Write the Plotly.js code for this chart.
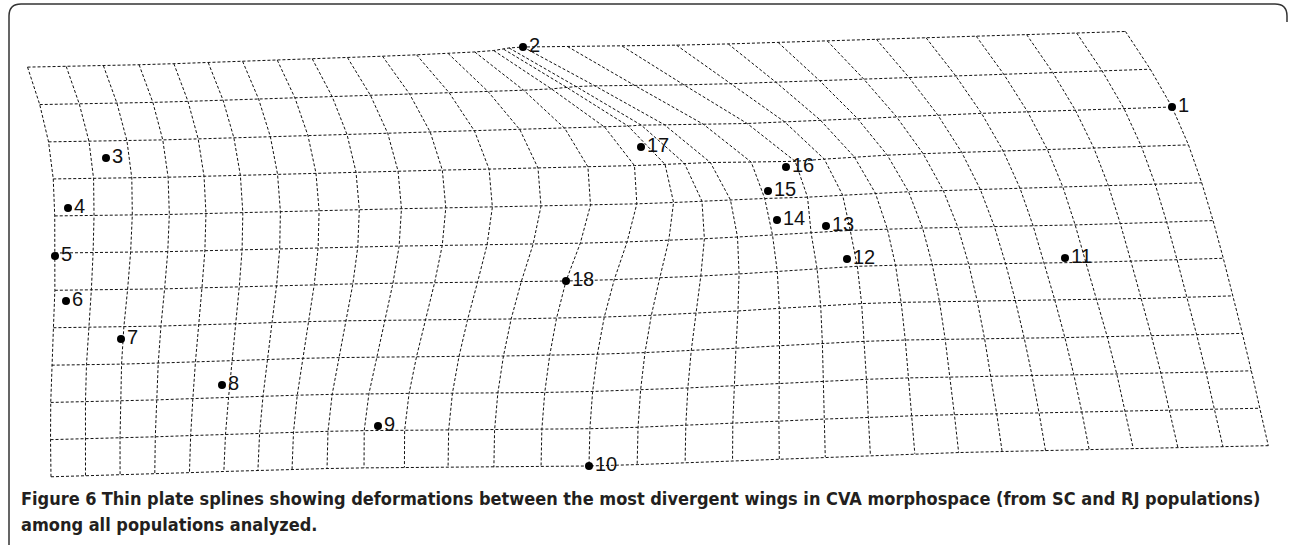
<!DOCTYPE html>
<html>
<head>
<meta charset="utf-8">
<script src="https://cdn.plot.ly/plotly-3.0.1.min.js"></script>
<style>
  html, body { margin: 0; padding: 0; background: #ffffff; }
  #chart { width: 1292px; height: 545px; }
</style>
</head>
<body>
<div id="chart"></div>
<script>
// ---- Landmark data (target configuration) ----
const landmarkLabels = ['1','2','3','4','5','6','7','8','9','10','11','12','13','14','15','16','17','18'];
const landmarkX = [1172, 523, 106, 68, 55, 66, 121, 222, 378, 589, 1065, 847, 826, 777, 768, 786, 641, 566];
const landmarkY = [107, 47, 158, 208, 256, 301, 339, 385, 426, 466, 258, 259, 226, 220, 191, 167, 147, 281];
// ---- Landmark positions in the undeformed reference grid (grid units) ----
const refU = [29, 17.0, 1.36, 0.34, 0, 0.31, 1.95, 4.78, 9.35, 14, 25.55, 19.77, 19.41, 18.19, 18.12, 18.63, 14.45, 13];
const refV = [2, 0, 2.45, 3.79, 5.08, 6.29, 7.32, 8.66, 9.88, 11, 5.87, 5.79, 4.84, 4.59, 3.8, 3.14, 2.53, 6];
// ---- Grid size (number of vertical and horizontal lines) ----
const gridCols = 30;
const gridRows = 12;
// ---- Caption ----
const captionFigure = 'Figure 6';
const captionLine1 = 'Thin plate splines showing deformations between the most divergent wings in CVA morphospace (from SC and RJ populations)';
const captionLine2 = 'among all populations analyzed.';

// ---- Thin plate spline (reference grid -> target configuration) ----
function Ufn(r2) { return r2 === 0 ? 0 : r2 * Math.log(r2); }
function solve(A, b) {
  const m = b.length;
  const M = A.map((row, i) => row.concat([b[i]]));
  for (let c = 0; c < m; c++) {
    let p = c;
    for (let r = c + 1; r < m; r++) if (Math.abs(M[r][c]) > Math.abs(M[p][c])) p = r;
    [M[c], M[p]] = [M[p], M[c]];
    for (let r = 0; r < m; r++) {
      if (r === c) continue;
      const f = M[r][c] / M[c][c];
      for (let k = c; k <= m; k++) M[r][k] -= f * M[c][k];
    }
  }
  return M.map((row, i) => row[m] / row[i]);
}
const n = refU.length;
const L = [];
for (let i = 0; i < n + 3; i++) L.push(new Array(n + 3).fill(0));
for (let i = 0; i < n; i++) {
  for (let j = 0; j < n; j++) {
    const du = refU[i] - refU[j], dv = refV[i] - refV[j];
    L[i][j] = Ufn(du * du + dv * dv);
  }
  L[i][n] = 1; L[i][n + 1] = refU[i]; L[i][n + 2] = refV[i];
  L[n][i] = 1; L[n + 1][i] = refU[i]; L[n + 2][i] = refV[i];
}
const coefX = solve(L, landmarkX.concat([0, 0, 0]));
const coefY = solve(L, landmarkY.concat([0, 0, 0]));
function warp(u, v) {
  let x = coefX[n] + coefX[n + 1] * u + coefX[n + 2] * v;
  let y = coefY[n] + coefY[n + 1] * u + coefY[n + 2] * v;
  for (let i = 0; i < n; i++) {
    const du = u - refU[i], dv = v - refV[i];
    const k = Ufn(du * du + dv * dv);
    x += coefX[i] * k; y += coefY[i] * k;
  }
  return [x, y];
}

const gx = [], gy = [];
for (let r = 0; r < gridRows; r++) {
  for (let c = 0; c < gridCols; c++) { const p = warp(c, r); gx.push(p[0]); gy.push(p[1]); }
  gx.push(null); gy.push(null);
}
for (let c = 0; c < gridCols; c++) {
  for (let r = 0; r < gridRows; r++) { const p = warp(c, r); gx.push(p[0]); gy.push(p[1]); }
  gx.push(null); gy.push(null);
}

const traces = [
  {
    type: 'scatter', mode: 'lines', x: gx, y: gy, hoverinfo: 'skip',
    line: { color: '#111111', width: 1, dash: '3px,2px' }, connectgaps: false
  },
  {
    type: 'scatter', mode: 'markers+text', x: landmarkX, y: landmarkY,
    text: landmarkLabels, textposition: 'middle right',
    marker: { color: '#000000', size: 8 },
    textfont: { family: 'Liberation Sans, Arial, sans-serif', size: 20, color: '#111111' }
  }
];

const W = 1292, H = 545;
const layout = {
  width: W, height: H,
  margin: { l: 0, r: 0, t: 0, b: 0, pad: 0 },
  paper_bgcolor: '#ffffff', plot_bgcolor: '#ffffff',
  showlegend: false,
  xaxis: { range: [0, W], visible: false, fixedrange: true },
  yaxis: { range: [H, 0], visible: false, fixedrange: true },
  shapes: [
    {
      type: 'path', xref: 'x', yref: 'y',
      path: 'M 9,545 L 9,16 Q 9,4 21,4 L 1275,4 Q 1287,4 1287,16 L 1287,22',
      line: { color: '#333333', width: 1.5 }
    }
  ],
  annotations: [
    {
      xref: 'paper', yref: 'paper', x: 19 / W, y: 1 - 498 / H, xanchor: 'left', yanchor: 'middle',
      showarrow: false, align: 'left',
      text: '<b>' + captionFigure + '</b> <b>' + captionLine1 + '</b>',
      font: { family: 'DejaVu Sans Condensed, sans-serif', size: 18, color: '#231f20' }
    },
    {
      xref: 'paper', yref: 'paper', x: 19 / W, y: 1 - 524 / H, xanchor: 'left', yanchor: 'middle',
      showarrow: false, align: 'left',
      text: '<b>' + captionLine2 + '</b>',
      font: { family: 'DejaVu Sans Condensed, sans-serif', size: 18, color: '#231f20' }
    }
  ]
};

Plotly.newPlot('chart', traces, layout, { staticPlot: true, displayModeBar: false });
</script>
</body>
</html>
